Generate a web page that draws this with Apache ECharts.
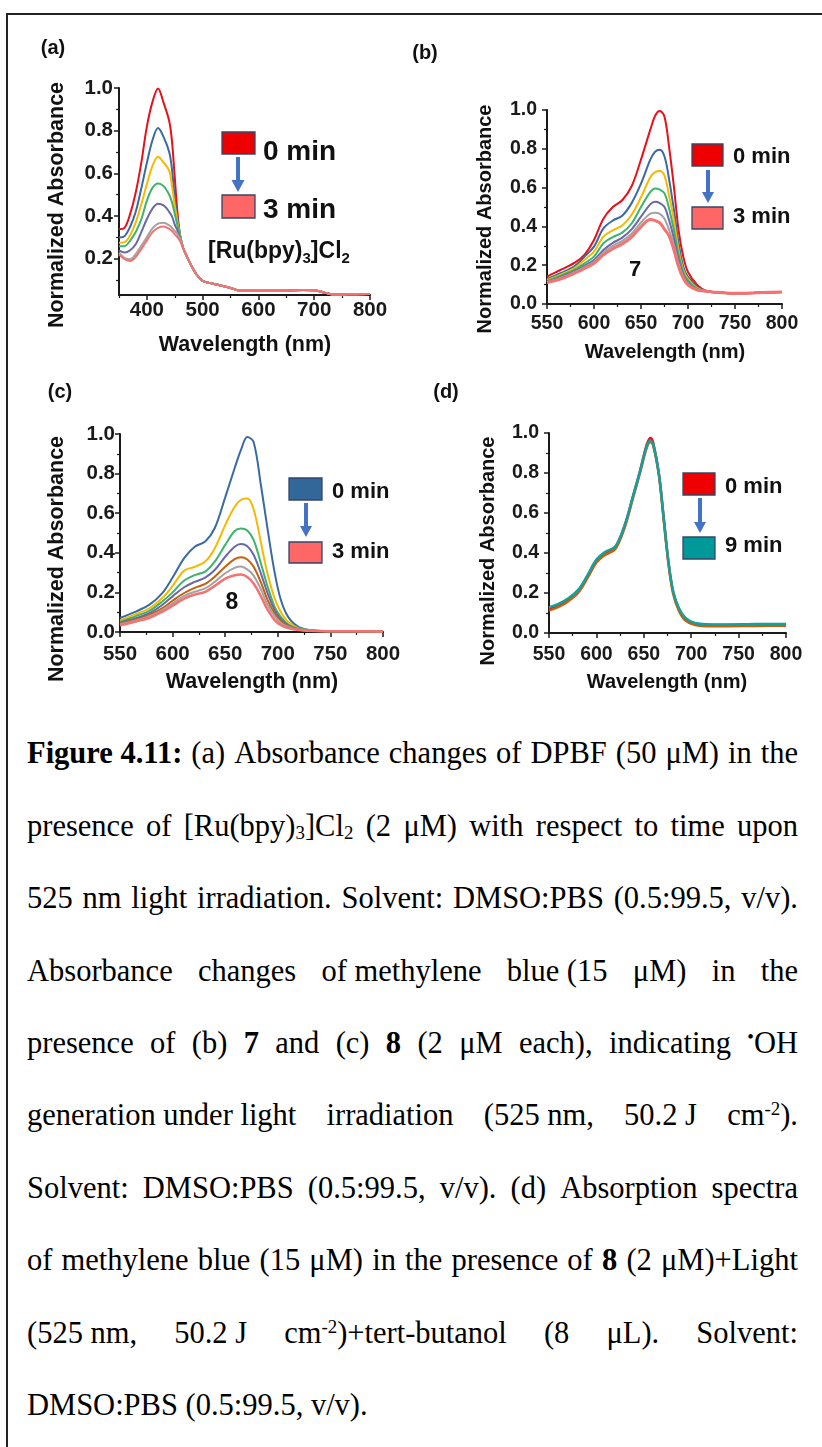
<!DOCTYPE html>
<html><head><meta charset="utf-8">
<script src="https://cdn.jsdelivr.net/npm/echarts@6/dist/echarts.min.js"></script>
<style>
html,body{margin:0;padding:0;background:#fff;}
body{width:822px;height:1447px;position:relative;overflow:hidden;}
#frame{position:absolute;left:6px;top:13px;width:840px;height:1460px;border-left:2px solid #222;border-top:2px solid #222;box-sizing:border-box;}
#chart{position:absolute;left:0;top:0;width:822px;height:720px;}
.cap{position:absolute;left:27px;width:771px;font-family:'Liberation Serif','Times New Roman',serif;font-size:30.5px;line-height:30.5px;color:#000;display:flex;justify-content:space-between;white-space:pre;}
.cap.last{justify-content:flex-start;}
.cap sub{font-size:0.62em;vertical-align:-0.18em;line-height:0;}
.cap sup{font-size:0.62em;vertical-align:0.55em;line-height:0;}
</style></head>
<body>
<div id="frame"></div>
<div id="chart"></div>
<div id="caption"></div>
<script>
// ---------- Panel (a): [Ru(bpy)3]Cl2 / DPBF ----------
const wlA = [350,360,370,380,390,400,410,420,430,440,445,450,455,460,465];
const a_red    = [.338,.345,.41,.51,.65,.82,.935,.998,.93,.845,.75,.58,.41,.30,.25];
const a_blue   = [.30,.306,.35,.42,.53,.65,.755,.812,.77,.70,.62,.48,.385,.305,.25];
const a_yellow = [.275,.278,.31,.37,.455,.55,.635,.678,.65,.613,.54,.45,.37,.30,.25];
const a_green  = [.259,.259,.285,.325,.385,.472,.532,.553,.54,.50,.465,.41,.355,.30,.25];
const a_purple = [.239,.229,.24,.268,.325,.386,.435,.458,.45,.42,.398,.36,.33,.29,.25];
const a_gray   = [.228,.203,.197,.222,.26,.302,.342,.364,.368,.356,.345,.33,.315,.29,.25];
const a_pink   = [.22,.198,.189,.208,.245,.286,.325,.345,.351,.34,.33,.315,.30,.28,.25];
const wlATail  = [470,477,489,500,510,525,550,567,600,650,680,700,720,735,760,800];
const a_tail   = [.22,.181,.126,.096,.088,.079,.063,.05,.05,.05,.054,.052,.04,.032,.033,.035];

// ---------- Panel (b): compound 7 ----------
const wlB = [550,565,580,590,600,610,620,630,640,650,660,665,670,675,680,685,690,695,700,710];
const b_red    = [.141,.177,.215,.255,.33,.44,.50,.535,.607,.745,.90,.97,.995,.965,.805,.605,.38,.244,.165,.097];
const b_blue   = [.129,.16,.197,.245,.296,.39,.43,.455,.52,.62,.745,.785,.795,.76,.64,.485,.313,.192,.14,.088];
const b_yellow = [.124,.153,.188,.228,.27,.347,.38,.405,.46,.55,.655,.68,.685,.66,.555,.433,.278,.175,.13,.082];
const b_green  = [.119,.146,.178,.21,.244,.313,.345,.368,.415,.50,.578,.596,.59,.57,.49,.381,.253,.162,.12,.078];
const b_purple = [.115,.14,.17,.198,.227,.278,.315,.342,.385,.45,.515,.527,.52,.50,.43,.338,.227,.149,.11,.074];
const b_gray   = [.112,.136,.165,.19,.218,.265,.30,.325,.362,.42,.466,.47,.465,.44,.38,.304,.21,.141,.105,.072];
const b_pink   = [.11,.13,.16,.183,.21,.253,.285,.31,.345,.398,.436,.43,.418,.385,.35,.278,.192,.132,.098,.072];
const wlBTail  = [720,730,740,750,760,780,800];
const b_tail   = [.066,.06,.057,.056,.056,.059,.062];

// ---------- Panel (c): compound 8 ----------
const wlC = [550,565,578,590,600,611,621,631,640,650,659,665,671,677,684,690,697,703,710,720,735,760,800];
const c_blue   = [.071,.103,.138,.195,.275,.373,.431,.457,.524,.68,.828,.92,.985,.96,.74,.53,.30,.16,.075,.025,.008,.004,.003];
const c_yellow = [.059,.09,.12,.17,.233,.31,.329,.356,.422,.54,.633,.668,.674,.62,.45,.30,.169,.10,.05,.018,.006,.004,.003];
const c_green  = [.051,.08,.107,.153,.20,.26,.287,.305,.355,.44,.51,.523,.513,.465,.345,.235,.127,.075,.038,.015,.006,.004,.003];
const c_purple = [.046,.07,.095,.136,.18,.226,.253,.275,.313,.38,.431,.444,.433,.39,.295,.20,.11,.063,.032,.013,.006,.004,.003];
const c_orange = [.042,.063,.086,.119,.158,.197,.223,.243,.279,.33,.368,.377,.366,.33,.25,.165,.093,.055,.028,.012,.005,.004,.003];
const c_gray   = [.039,.058,.08,.111,.145,.182,.203,.22,.253,.297,.324,.331,.316,.285,.215,.14,.08,.045,.025,.011,.005,.004,.003];
const c_pink   = [.034,.053,.072,.102,.133,.169,.189,.203,.233,.27,.287,.29,.278,.245,.18,.115,.06,.035,.02,.01,.005,.004,.003];

// ---------- Panel (d): compound 8 + tert-butanol ----------
const wlD = [550,560,570,581,591,600,609,620,630,639,646,653,657,660,666,671,676,681,687,694,704,722,740,760,780,800];
const d_red    = [.122,.14,.167,.212,.288,.362,.40,.43,.54,.69,.81,.94,.975,.95,.795,.575,.355,.205,.12,.07,.045,.04,.04,.041,.042,.042];
const d_orange = [.112,.13,.158,.203,.278,.352,.39,.42,.53,.682,.80,.925,.955,.935,.785,.565,.345,.195,.112,.062,.04,.034,.034,.035,.036,.036];
const d_teal   = [.128,.145,.172,.217,.292,.367,.405,.433,.542,.692,.808,.933,.962,.942,.792,.575,.358,.208,.125,.075,.05,.043,.043,.044,.045,.045];

// tick labels
const yTicks = [0.2,0.4,0.6,0.8,1.0];
const yMinorA = [0.1,0.3,0.5,0.7,0.9];
const xTicksA = [400,500,600,700,800];
const xMinorA = [350,450,550,650,750];

const C = {red:'#e8101a', blue:'#3a6aa3', yellow:'#f8b800', green:'#3cb46a', purple:'#6a68a6',
           gray:'#a3a3a3', pink:'#f47272', orange:'#c4600e', teal:'#13a19e'};
const FF = "'Liberation Sans', Arial, sans-serif";

function xy(wl, vals){ return wl.map((w,i)=>[w, vals[i]]); }
function ser(data, color, xi, yi, width){
  return {type:'line', data, xAxisIndex:xi, yAxisIndex:yi, smooth:0.35, symbol:'none', showSymbol:false,
          lineStyle:{color, width:width||2}, itemStyle:{color}, silent:true, animation:false};
}
const axLine = {show:true, lineStyle:{color:'#1a1a1a', width:2}};
function lab(size, margin){ return {fontFamily:FF, fontWeight:'bold', fontSize:size, color:'#1a1a1a', margin}; }

const grids = [
  {left:119, top:88, width:251, height:207},
  {left:547, top:110, width:235, height:194},
  {left:120, top:434, width:263, height:198},
  {left:549, top:433, width:237, height:200}
].map(g=>Object.assign(g,{outerBoundsMode:'none', containLabel:false}));

function stdX(gi, size, margin){
  return {type:'value', gridIndex:gi, position:'bottom', min:550, max:800, interval:50, axisLine:axLine,
    axisTick:{show:true, length:5, lineStyle:{color:'#1a1a1a', width:1.5}},
    minorTick:{show:true, splitNumber:2, length:3, lineStyle:{color:'#1a1a1a', width:1.2}},
    axisLabel:lab(size, margin), splitLine:{show:false}, minorSplitLine:{show:false}};
}
function stdY(gi, size, margin){
  return {type:'value', gridIndex:gi, position:'left', min:0, max:1.0, interval:0.2, axisLine:axLine,
    axisTick:{show:true, length:5, lineStyle:{color:'#1a1a1a', width:1.5}},
    minorTick:{show:true, splitNumber:2, length:3, lineStyle:{color:'#1a1a1a', width:1.2}},
    axisLabel:Object.assign(lab(size, margin), {formatter:v=>v.toFixed(1)}),
    splitLine:{show:false}, minorSplitLine:{show:false}};
}

const xAxes = [
  {type:'value', gridIndex:0, position:'bottom', min:350, max:800, axisLine:axLine,
   axisTick:{show:true, length:5, customValues:xTicksA, lineStyle:{color:'#1a1a1a', width:1.5}},
   axisLabel:Object.assign(lab(20.5,5), {customValues:xTicksA}), splitLine:{show:false}},
  {type:'value', gridIndex:0, position:'bottom', offset:0, min:350, max:800, axisLine:{show:false},
   axisTick:{show:true, length:3, customValues:xMinorA, lineStyle:{color:'#1a1a1a', width:1.2}},
   axisLabel:{show:false}, splitLine:{show:false}},
  stdX(1, 19.5, 10), stdX(2, 20.5, 12), stdX(3, 19.5, 12)
];
const yAxes = [
  {type:'value', gridIndex:0, position:'left', min:0.03, max:1.0, axisLine:axLine,
   axisTick:{show:true, length:5, customValues:yTicks, lineStyle:{color:'#1a1a1a', width:1.5}},
   axisLabel:Object.assign(lab(20.5,6), {customValues:yTicks, formatter:v=>v.toFixed(1)}), splitLine:{show:false}},
  {type:'value', gridIndex:0, position:'left', offset:0, min:0.03, max:1.0, axisLine:{show:false},
   axisTick:{show:true, length:3, customValues:yMinorA, lineStyle:{color:'#1a1a1a', width:1.2}},
   axisLabel:{show:false}, splitLine:{show:false}},
  stdY(1, 19.5, 10), stdY(2, 20.5, 5), stdY(3, 19.5, 10)
];

const series = [
  ser(xy(wlA,a_red).concat(xy(wlATail,a_tail)), C.red, 0, 0),
  ser(xy(wlA,a_blue).concat(xy(wlATail,a_tail)), C.blue, 0, 0),
  ser(xy(wlA,a_yellow).concat(xy(wlATail,a_tail)), C.yellow, 0, 0),
  ser(xy(wlA,a_green).concat(xy(wlATail,a_tail)), C.green, 0, 0),
  ser(xy(wlA,a_purple).concat(xy(wlATail,a_tail)), C.purple, 0, 0),
  ser(xy(wlA,a_gray).concat(xy(wlATail,a_tail)), C.gray, 0, 0),
  ser(xy(wlA,a_pink).concat(xy(wlATail,a_tail)), C.pink, 0, 0),

  ser(xy(wlB,b_red).concat(xy(wlBTail,b_tail)), C.red, 2, 2),
  ser(xy(wlB,b_blue).concat(xy(wlBTail,b_tail)), C.blue, 2, 2),
  ser(xy(wlB,b_yellow).concat(xy(wlBTail,b_tail)), C.yellow, 2, 2),
  ser(xy(wlB,b_green).concat(xy(wlBTail,b_tail)), C.green, 2, 2),
  ser(xy(wlB,b_purple).concat(xy(wlBTail,b_tail)), C.purple, 2, 2),
  ser(xy(wlB,b_gray).concat(xy(wlBTail,b_tail)), C.gray, 2, 2),
  ser(xy(wlB,b_pink).concat(xy(wlBTail,b_tail)), C.pink, 2, 2, 3),

  ser(xy(wlC,c_blue), C.blue, 3, 3),
  ser(xy(wlC,c_yellow), C.yellow, 3, 3),
  ser(xy(wlC,c_green), C.green, 3, 3),
  ser(xy(wlC,c_purple), C.purple, 3, 3),
  ser(xy(wlC,c_orange), C.orange, 3, 3),
  ser(xy(wlC,c_gray), C.gray, 3, 3),
  ser(xy(wlC,c_pink), C.pink, 3, 3, 2.5),

  ser(xy(wlD,d_red), C.red, 4, 4, 2.5),
  ser(xy(wlD,d_orange), C.orange, 4, 4, 2.5),
  ser(xy(wlD,d_teal), C.teal, 4, 4, 2.5)
];

// ---------- annotations ----------
function txt(x, y, text, size, opts){
  return Object.assign({type:'text', x, y, silent:true, style:{text, fill:'#111',
    font:'bold '+size+'px '+FF, align:'center', verticalAlign:'middle'}}, opts||{});
}
function vtxt(x, y, text, size){ return txt(x, y, text, size, {rotation:Math.PI/2}); }
function ltxt(x, y, text, size){ const t = txt(x, y, text, size); t.style.align = 'left'; return t; }
function box(x, y, w, h, fill){
  return {type:'rect', silent:true, shape:{x, y, width:w, height:h}, style:{fill, stroke:'#34476a', lineWidth:1.3}};
}
function arrow(cx, y0, y1, hw){
  const sw = 2, hy = y1 - hw;
  return {type:'polygon', silent:true, shape:{points:[[cx-sw,y0],[cx+sw,y0],[cx+sw,hy],[cx+hw/2+0.5,hy],[cx,y1],[cx-hw/2-0.5,hy],[cx-sw,hy]]},
          style:{fill:'#4472c4'}};
}
const graphic = [
  txt(53, 48, '(a)', 20), txt(425, 53, '(b)', 20), txt(60, 392, '(c)', 20), txt(446, 392, '(d)', 20),
  vtxt(57, 205, 'Normalized Absorbance', 21.5), txt(245, 345, 'Wavelength (nm)', 21.5),
  vtxt(485, 219, 'Normalized Absorbance', 20), txt(665, 352, 'Wavelength (nm)', 20),
  vtxt(57, 559, 'Normalized Absorbance', 21.5), txt(252, 682, 'Wavelength (nm)', 21.5),
  vtxt(488, 551, 'Normalized Absorbance', 20), txt(667, 682, 'Wavelength (nm)', 20),
  // legend (a)
  box(222, 132, 33, 22, '#ee0000'), arrow(238, 157, 192, 12), box(222, 195, 33, 23, '#ff6666'),
  ltxt(263, 152, '0 min', 28), ltxt(263, 210, '3 min', 28),
  {type:'text', x:208, y:252, silent:true, style:{text:'{n|[Ru(bpy)}{s|3}{n|]Cl}{s|2}', align:'left', verticalAlign:'middle',
    rich:{n:{font:'bold 23px '+FF, fill:'#111', lineHeight:28, verticalAlign:'middle'},
          s:{font:'bold 15px '+FF, fill:'#111', lineHeight:28, verticalAlign:'bottom', padding:[0,0,0,0]}}}},
  // legend (b)
  box(692, 144, 31, 22, '#ee0000'), arrow(708, 170, 203, 11), box(692, 207, 31, 22, '#ff6666'),
  ltxt(733, 157, '0 min', 22), ltxt(733, 217, '3 min', 22), txt(635, 270, '7', 22),
  // legend (c)
  box(289, 478, 33, 22, '#336699'), arrow(306, 503, 537, 11), box(289, 542, 33, 21, '#ff6666'),
  ltxt(332, 492, '0 min', 22), ltxt(332, 552, '3 min', 22), txt(232, 603, '8', 23),
  // legend (d)
  box(683, 473, 32, 22, '#ee0000'), arrow(700, 498, 533, 11), box(683, 537, 32, 22, '#009999'),
  ltxt(725, 487, '0 min', 22), ltxt(725, 546, '9 min', 22)
];

const chart = echarts.init(document.getElementById('chart'), null, {renderer:'canvas'});
chart.setOption({animation:false, backgroundColor:'transparent', grid:grids, xAxis:xAxes, yAxis:yAxes, series, graphic});

// ---------- caption ----------
const captionLines = [
  ['<b>Figure 4.11:</b>','(a)','Absorbance','changes','of','DPBF','(50','μM)','in','the'],
  ['presence','of','[Ru(bpy)<sub>3</sub>]Cl<sub>2</sub>','(2','μM)','with','respect','to','time','upon'],
  ['525','nm','light','irradiation.','Solvent:','DMSO:PBS','(0.5:99.5,','v/v).'],
  ['Absorbance','changes','of methylene','blue (15','μM)','in','the'],
  ['presence','of','(b)','<b>7</b>','and','(c)','<b>8</b>','(2','μM','each),','indicating','<sup>•</sup>OH'],
  ['generation under light','irradiation','(525 nm,','50.2 J','cm<sup>-2</sup>).'],
  ['Solvent:','DMSO:PBS','(0.5:99.5,','v/v).','(d)','Absorption','spectra'],
  ['of','methylene','blue','(15','μM)','in','the','presence','of','<b>8</b>','(2','μM)+Light'],
  ['(525 nm,','50.2 J','cm<sup>-2</sup>)+tert-butanol','(8','μL).','Solvent:'],
  ['DMSO:PBS (0.5:99.5, v/v).']
];
const cap = document.getElementById('caption');
captionLines.forEach((groups, i) => {
  const d = document.createElement('div');
  d.className = 'cap' + (i === captionLines.length - 1 ? ' last' : '');
  d.style.top = (764 - 25.6 + i * 72.4) + 'px';
  d.innerHTML = groups.map(g => '<span>' + g + '</span>').join('');
  cap.appendChild(d);
});
</script>
</body></html>
